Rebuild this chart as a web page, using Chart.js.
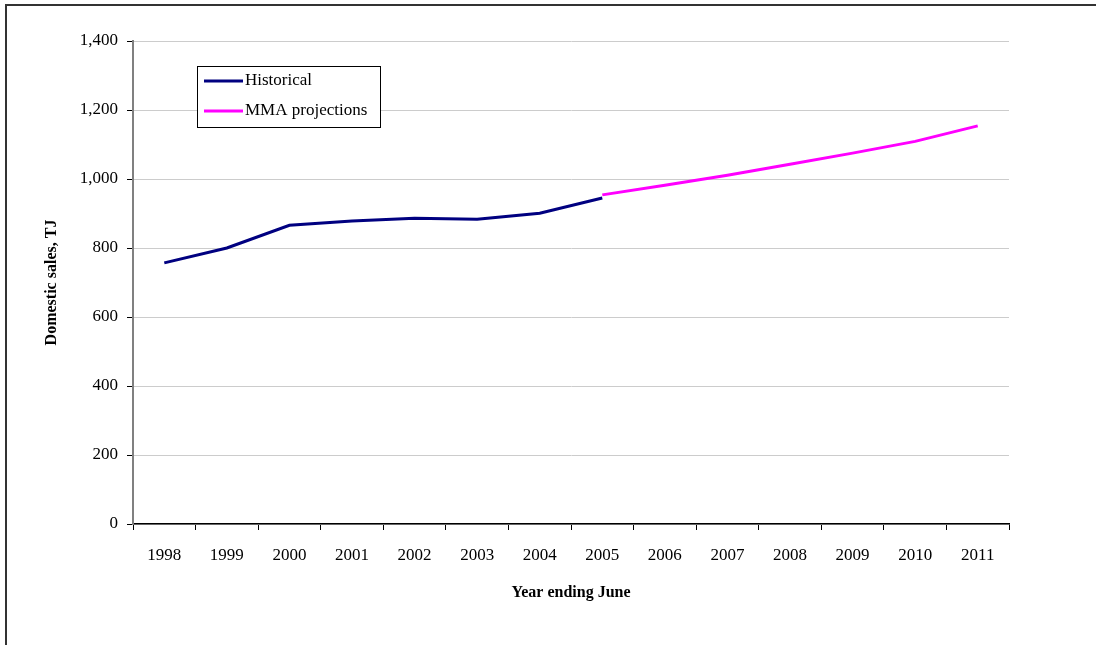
<!DOCTYPE html>
<html>
<head>
<meta charset="utf-8">
<script src="https://cdn.jsdelivr.net/npm/chart.js@4"></script>
<style>
  html, body { margin: 0; padding: 0; background: #fff; overflow: hidden; }
  canvas { display: block; }
</style>
</head>
<body>
<canvas id="LineGraph" width="1096" height="645"></canvas>
<script>
// Data
var years = ['1998', '1999', '2000', '2001', '2002', '2003', '2004', '2005', '2006', '2007', '2008', '2009', '2010', '2011'];
var historical = [757, 800, 866, 878, 886, 883, 901, 945, null, null, null, null, null, null];
var projections = [null, null, null, null, null, null, null, 954, 982, 1011, 1043, 1075, 1109, 1154];
var yTicks = [0, 200, 400, 600, 800, 1000, 1200, 1400];

var serif = "'Liberation Serif', 'DejaVu Serif', serif";

// outer frame: only top and left edges show in the original crop
var frame = {
    id: 'frame',
    beforeDraw: function(chart) {
        var c = chart.ctx;
        c.save();
        c.strokeStyle = '#333';
        c.lineWidth = 2;
        c.beginPath();
        c.moveTo(6, 645);
        c.lineTo(6, 5);
        c.lineTo(1096, 5);
        c.stroke();
        c.restore();
    }
};

// Legend box inside the plot, like the original
var boxLegend = {
    id: 'boxLegend',
    afterDraw: function(chart) {
        var c = chart.ctx;
        var items = [
            { text: 'Historical', color: '#000080' },
            { text: 'MMA projections', color: '#ff00ff' }
        ];
        c.save();
        c.fillStyle = '#fff';
        c.fillRect(197.5, 66.5, 183, 61);
        c.strokeStyle = '#000';
        c.lineWidth = 1;
        c.strokeRect(197.5, 66.5, 183, 61);
        c.font = '17px ' + serif;
        c.textBaseline = 'middle';
        items.forEach(function(item, i) {
            var y = 81 + i * 30;
            c.strokeStyle = item.color;
            c.lineWidth = 3;
            c.beginPath();
            c.moveTo(204, y);
            c.lineTo(243, y);
            c.stroke();
            c.fillStyle = '#000';
            c.fillText(item.text, 245, y);
        });
        c.restore();
    }
};

var ctx = document.getElementById('LineGraph').getContext('2d');

var chart = new Chart(ctx, {
    type: 'line',
    data: {
        labels: years,
        datasets: [
            {
                label: 'Historical',
                data: historical,
                borderColor: '#000080',
                borderWidth: 3,
                pointRadius: 0,
                fill: false,
                tension: 0
            },
            {
                label: 'MMA projections',
                data: projections,
                borderColor: '#ff00ff',
                borderWidth: 3,
                pointRadius: 0,
                fill: false,
                tension: 0
            }
        ]
    },
    options: {
        responsive: false,
        animation: false,
        layout: {
            padding: { left: 42, top: 41, right: 87, bottom: 41 }
        },
        plugins: {
            legend: { display: false },
            tooltip: { enabled: false }
        },
        scales: {
            x: {
                offset: true,
                grid: {
                    offset: true,
                    drawOnChartArea: false,
                    tickLength: 6,
                    tickColor: '#000'
                },
                border: { color: '#000', width: 1.5 },
                ticks: {
                    color: '#000',
                    font: { family: serif, size: 17 },
                    padding: 15,
                    maxRotation: 0
                },
                title: {
                    display: true,
                    text: 'Year ending June',
                    color: '#000',
                    font: { family: serif, size: 16, weight: 'bold' },
                    padding: { top: 0, bottom: 2 }
                },
                afterFit: function(scale) { scale.height = 80; }
            },
            y: {
                min: 0,
                max: 1400,
                afterBuildTicks: function(scale) {
                    scale.ticks = yTicks.map(function(v) { return { value: v }; });
                },
                grid: {
                    color: '#cccccc',
                    tickLength: 6,
                    tickColor: '#000'
                },
                border: { color: '#808080', width: 2 },
                ticks: {
                    color: '#000',
                    font: { family: serif, size: 17 },
                    padding: 9,
                    callback: function(v) { return v.toLocaleString('en-US'); }
                },
                title: {
                    display: true,
                    text: 'Domestic sales, TJ',
                    color: '#000',
                    font: { family: serif, size: 16, weight: 'bold' },
                    padding: 0
                },
                afterFit: function(scale) { scale.width = 91; }
            }
        }
    },
    plugins: [frame, boxLegend]
});
</script>
</body>
</html>
